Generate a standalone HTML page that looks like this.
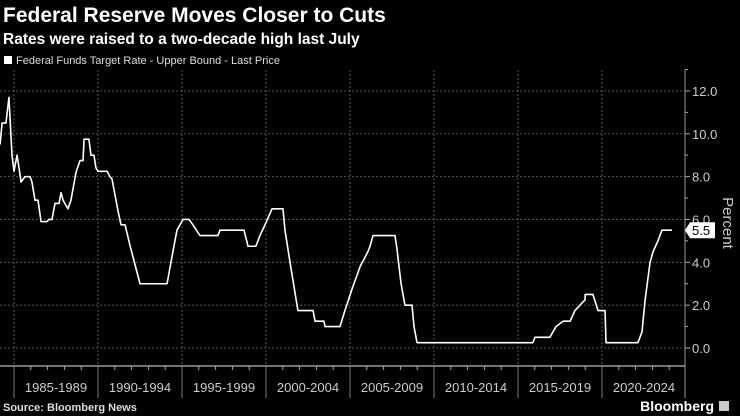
<!DOCTYPE html>
<html><head><meta charset="utf-8"><style>
body{margin:0;background:#000;width:740px;height:416px;overflow:hidden;font-family:"Liberation Sans",sans-serif;color:#fff}
svg{position:absolute;left:0;top:0}
</style></head><body>
<svg id="c" width="740" height="416">
<text x="3" y="22" font-size="21" font-weight="bold" fill="#fff">Federal Reserve Moves Closer to Cuts</text>
<text x="3" y="44" font-size="15.5" font-weight="bold" fill="#fff">Rates were raised to a two-decade high last July</text>
<rect x="4" y="56" width="8" height="8" fill="#fff"/>
<text x="16" y="64" font-size="11" fill="#ddd">Federal Funds Target Rate - Upper Bound - Last Price</text>
<text x="3" y="411" font-size="11" font-weight="bold" fill="#ddd">Source: Bloomberg News</text>
<text x="714" y="411" font-size="14" font-weight="bold" fill="#fff" text-anchor="end">Bloomberg</text>
<rect x="719" y="401" width="10" height="10" fill="#ccc"/>
<text transform="translate(723,223) rotate(90)" font-size="15" fill="#ccc" text-anchor="middle">Percent</text>
<g id="g"></g>
</svg>
<script>
const years=[1984.17,1984.29,1984.52,1984.70,1984.88,1985.0,1985.18,1985.30,1985.42,1985.65,1985.95,1986.07,1986.25,1986.43,1986.61,1986.96,1987.08,1987.26,1987.44,1987.68,1987.80,1987.92,1988.21,1988.39,1988.69,1988.93,1989.11,1989.17,1989.46,1989.58,1989.76,1989.88,1990.0,1990.54,1990.71,1990.83,1991.19,1991.37,1991.61,1991.90,1992.5,1994.11,1994.40,1994.70,1995.06,1995.42,1995.65,1996.07,1997.14,1997.26,1998.69,1998.93,1999.40,1999.64,1999.94,2000.36,2001.01,2001.13,2001.43,2001.90,2002.80,2002.92,2003.45,2003.51,2004.40,2004.70,2005.12,2005.60,2006.07,2006.19,2006.37,2007.68,2007.80,2008.04,2008.27,2008.69,2008.81,2008.99,2015.89,2016.01,2016.90,2017.26,2017.68,2018.10,2018.39,2018.69,2018.99,2019.0,2019.46,2019.76,2020.18,2020.24,2022.14,2022.38,2022.56,2022.86,2023.04,2023.33,2023.57,2024.17];
const rates=[9.5,10.5,10.5,11.7,9.0,8.25,9.0,8.4,7.75,8.0,8.0,7.75,6.9,6.9,5.9,5.9,6.0,6.0,6.75,6.75,7.25,6.9,6.5,6.9,8.2,8.75,8.75,9.75,9.75,9.0,9.0,8.4,8.25,8.25,8.0,7.9,6.4,5.75,5.75,4.8,3.0,3.0,4.25,5.5,6.0,6.0,5.75,5.25,5.25,5.5,5.5,4.75,4.75,5.25,5.75,6.5,6.5,5.5,4.0,1.75,1.75,1.25,1.25,1.0,1.0,1.75,2.75,3.8,4.5,4.75,5.25,5.25,4.6,3.0,2.0,2.0,1.0,0.25,0.25,0.5,0.5,1.0,1.25,1.25,1.75,2.0,2.25,2.5,2.5,1.75,1.75,0.25,0.25,0.75,2.2,4.0,4.5,5.0,5.5,5.5];
const yTicks=[0,2,4,6,8,10,12];
const periods=["1985-1989","1990-1994","1995-1999","2000-2004","2005-2009","2010-2014","2015-2019","2020-2024"];
const lastValue=5.5;
const NS="http://www.w3.org/2000/svg",g=document.getElementById('g');
const X0=0,X1=685,Y0=70,Y1=366;
const x=yr=>14+(yr-1985)*16.8;
const y=v=>348-v*21.42;
function mk(t,a){const e=document.createElementNS(NS,t);for(const k in a)e.setAttribute(k,a[k]);g.appendChild(e);return e;}
yTicks.forEach(v=>{
 const l=mk('line',{x1:X0,x2:X1,y1:y(v),y2:y(v),stroke:'#555','stroke-dasharray':'2,2'});
 
 
 const t=mk('line',{x1:X1,x2:X1+5,y1:y(v),y2:y(v),stroke:'#aaa'});
 
 
 const m=mk('line',{x1:X1,x2:X1+3,y1:y(v+1),y2:y(v+1),stroke:'#aaa'});
 
 
 const tx=mk('text',{x:X1+7,y:y(v)+5,'font-size':13,fill:'#ccc'});tx.textContent=v.toFixed(1);
 
 
});
periods.forEach((p,i)=>{
 const s=1985+5*i;
 const l=mk('line',{x1:x(s),x2:x(s),y1:Y0,y2:Y1,stroke:'#555','stroke-dasharray':'2,2'});
 
 
 const sep=mk('line',{x1:x(s),x2:x(s),y1:Y1,y2:398,stroke:'#777'});
 
 
 for(let k=1;k<5;k++){const t=mk('line',{x1:x(s+k),x2:x(s+k),y1:Y1,y2:Y1+4,stroke:'#aaa'});
 
 }
 const tx=mk('text',{x:x(s+2.5),y:392,'font-size':13,fill:'#ccc','text-anchor':'middle'});tx.textContent=p;
 
 
});
const ax=mk('line',{x1:X0,x2:X1,y1:Y1,y2:Y1,stroke:'#999','stroke-width':1.5});


const ay=mk('line',{x1:X1,x2:X1,y1:Y0,y2:Y1+32,stroke:'#999'});


const pl=mk('polyline',{points:years.map((yr,i)=>x(yr)+','+y(rates[i])).join(' '),fill:'none',stroke:'#fff','stroke-width':1.6,'stroke-linejoin':'round'});


const ly=y(lastValue);
const tag=mk('path',{d:`M${X1},${ly} L${X1+5},${ly-8} L${X1+30},${ly-8} L${X1+30},${ly+8} L${X1+5},${ly+8} Z`,fill:'#fff'});


const tt=mk('text',{x:X1+7,y:ly+5,'font-size':13,fill:'#000'});tt.textContent=lastValue.toFixed(1);


</script>
</body></html>
